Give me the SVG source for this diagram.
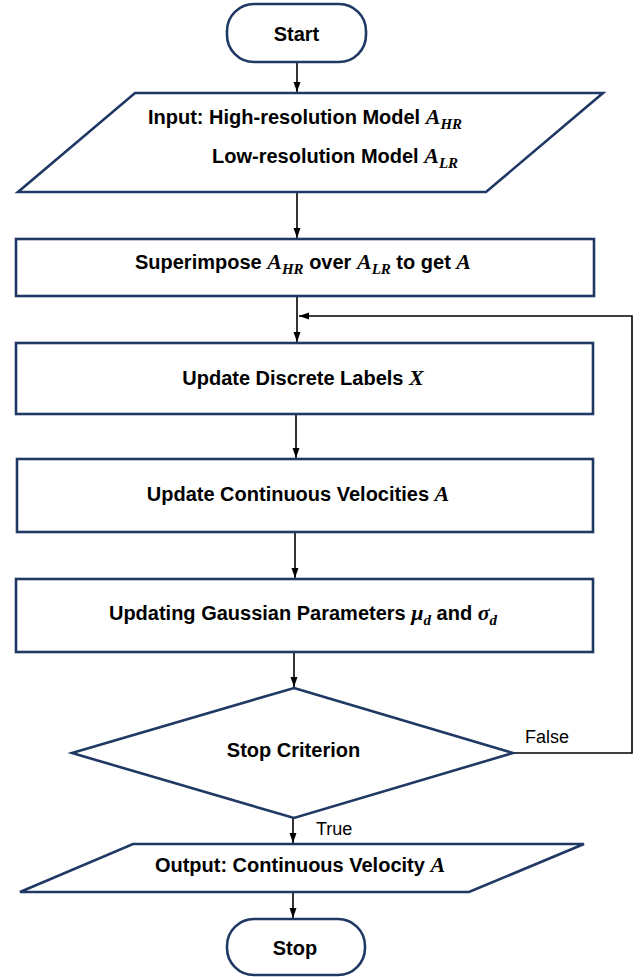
<svg xmlns="http://www.w3.org/2000/svg" width="641" height="977" viewBox="0 0 641 977">
<style>
.shape{fill:#ffffff;stroke:#1f3864;stroke-width:2.6;stroke-linejoin:miter}
.conn{fill:none;stroke:#000000;stroke-width:1.6}
.t{font-family:"Liberation Sans",Arial,sans-serif;font-weight:bold;font-size:20px;fill:#000000}
.m{font-family:"Liberation Serif","Times New Roman",serif;font-style:italic;font-weight:bold;font-size:22px}
.s{font-family:"Liberation Serif","Times New Roman",serif;font-style:italic;font-weight:bold;font-size:15px}
.lbl{font-family:"Liberation Sans",Arial,sans-serif;font-size:18px;fill:#000000}
</style>
<defs>
<marker id="arr" markerUnits="userSpaceOnUse" markerWidth="10" markerHeight="10" viewBox="0 0 10 10" refX="10" refY="5" orient="auto">
<path d="M0,1.5 L10,5 L0,8.5 Z" fill="#000000"/>
</marker>
</defs>
<rect width="641" height="977" fill="#ffffff"/>
<g id="connectors">
<line class="conn" x1="297" y1="62" x2="297" y2="92" marker-end="url(#arr)"/>
<line class="conn" x1="297" y1="192" x2="297" y2="238" marker-end="url(#arr)"/>
<line class="conn" x1="297" y1="297" x2="297" y2="342" marker-end="url(#arr)"/>
<line class="conn" x1="296" y1="414" x2="296" y2="458" marker-end="url(#arr)"/>
<line class="conn" x1="295" y1="532" x2="295" y2="578" marker-end="url(#arr)"/>
<line class="conn" x1="294" y1="652" x2="294" y2="687" marker-end="url(#arr)"/>
<line class="conn" x1="293" y1="818" x2="293" y2="843" marker-end="url(#arr)"/>
<line class="conn" x1="293" y1="892" x2="293" y2="918" marker-end="url(#arr)"/>
<polyline class="conn" points="513,753 632,753 632,316 299,316" marker-end="url(#arr)"/>
<text class="lbl" x="525" y="743">False</text>
<text class="lbl" x="316" y="835">True</text>
</g>
<g id="start">
<rect class="shape" x="227" y="4" width="139" height="58" rx="27" ry="27"/>
<text class="t" x="296.5" y="41" text-anchor="middle">Start</text>
</g>
<g id="input">
<polygon class="shape" points="135,93 603,93 486,192 18,192"/>
<text class="t" x="148" y="124">Input: High-resolution Model <tspan class="m">A</tspan><tspan class="s" dy="5">HR</tspan></text>
<text class="t" x="212" y="163">Low-resolution Model <tspan class="m">A</tspan><tspan class="s" dy="5">LR</tspan></text>
</g>
<g id="superimpose">
<rect class="shape" x="16" y="239" width="578" height="57"/>
<text class="t" x="303" y="269" text-anchor="middle">Superimpose <tspan class="m">A</tspan><tspan class="s" dy="5">HR</tspan><tspan dy="-5"> over </tspan><tspan class="m">A</tspan><tspan class="s" dy="5">LR</tspan><tspan dy="-5"> to get </tspan><tspan class="m">A</tspan></text>
</g>
<g id="discrete">
<rect class="shape" x="16" y="343" width="577" height="71"/>
<text class="t" x="303" y="385" text-anchor="middle">Update Discrete Labels <tspan class="m">X</tspan></text>
</g>
<g id="continuous">
<rect class="shape" x="17" y="459" width="576" height="73"/>
<text class="t" x="298" y="501" text-anchor="middle">Update Continuous Velocities <tspan class="m">A</tspan></text>
</g>
<g id="gaussian">
<rect class="shape" x="16" y="579" width="577" height="73"/>
<text class="t" x="303" y="620" text-anchor="middle">Updating Gaussian Parameters <tspan class="m">μ</tspan><tspan class="s" dy="5">d</tspan><tspan dy="-5"> and </tspan><tspan class="m">σ</tspan><tspan class="s" dy="5">d</tspan></text>
</g>
<g id="criterion">
<polygon class="shape" points="294,688 513,753 294,818 72,753"/>
<text class="t" x="293.5" y="757" text-anchor="middle">Stop Criterion</text>
</g>
<g id="output">
<polygon class="shape" points="133,844 584,844 469,892 20,892"/>
<text class="t" x="300" y="872" text-anchor="middle">Output: Continuous Velocity <tspan class="m">A</tspan></text>
</g>
<g id="stop">
<rect class="shape" x="227" y="919" width="138" height="56" rx="27" ry="27"/>
<text class="t" x="295" y="955" text-anchor="middle">Stop</text>
</g>
</svg>
